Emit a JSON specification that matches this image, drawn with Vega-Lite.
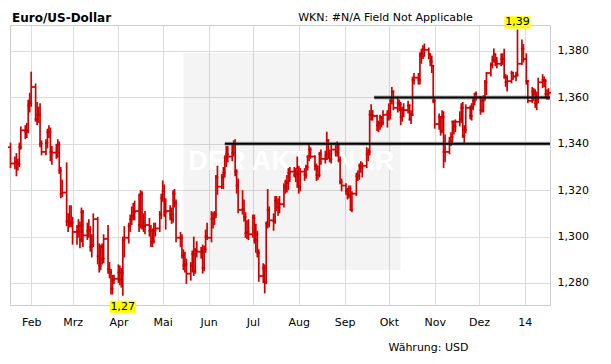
{
  "$schema": "https://vega.github.io/schema/vega-lite/v6.json",
  "width": 540,
  "height": 280,
  "autosize": "none",
  "padding": {"left": 10, "top": 25, "right": 61, "bottom": 59},
  "background": "white",
  "config": {"view": {"stroke": "#cccccc", "strokeWidth": 1}, "font": "DejaVu Sans"},
  "title": {"text": "Euro/US-Dollar", "anchor": "start", "frame": "group", "font": "DejaVu Sans", "fontSize": 12, "fontWeight": "bold", "color": "#000000", "offset": 6, "baseline": "alphabetic", "dx": 2, "dy": 29},
  "datasets": {
    "px": [
{"d":"2013-01-18","o":1.3385,"h":1.3405,"l":1.3295,"c":1.3315},
{"d":"2013-01-21","o":1.3315,"h":1.3345,"l":1.3290,"c":1.3320},
{"d":"2013-01-22","o":1.3320,"h":1.3360,"l":1.3260,"c":1.3318},
{"d":"2013-01-23","o":1.3318,"h":1.3335,"l":1.3285,"c":1.3312},
{"d":"2013-01-24","o":1.3312,"h":1.3405,"l":1.3300,"c":1.3385},
{"d":"2013-01-25","o":1.3385,"h":1.3475,"l":1.3375,"c":1.3458},
{"d":"2013-01-28","o":1.3458,"h":1.3480,"l":1.3420,"c":1.3452},
{"d":"2013-01-29","o":1.3452,"h":1.3490,"l":1.3425,"c":1.3458},
{"d":"2013-01-30","o":1.3458,"h":1.3590,"l":1.3445,"c":1.3565},
{"d":"2013-01-31","o":1.3565,"h":1.3620,"l":1.3535,"c":1.3575},
{"d":"2013-02-01","o":1.3575,"h":1.3711,"l":1.3560,"c":1.3645},
{"d":"2013-02-04","o":1.3645,"h":1.3660,"l":1.3495,"c":1.3505},
{"d":"2013-02-05","o":1.3505,"h":1.3580,"l":1.3480,"c":1.3525},
{"d":"2013-02-06","o":1.3525,"h":1.3560,"l":1.3490,"c":1.3525},
{"d":"2013-02-07","o":1.3525,"h":1.3575,"l":1.3385,"c":1.3400},
{"d":"2013-02-08","o":1.3400,"h":1.3415,"l":1.3350,"c":1.3365},
{"d":"2013-02-11","o":1.3365,"h":1.3420,"l":1.3350,"c":1.3405},
{"d":"2013-02-12","o":1.3405,"h":1.3465,"l":1.3380,"c":1.3450},
{"d":"2013-02-13","o":1.3450,"h":1.3480,"l":1.3425,"c":1.3452},
{"d":"2013-02-14","o":1.3452,"h":1.3470,"l":1.3325,"c":1.3365},
{"d":"2013-02-15","o":1.3365,"h":1.3390,"l":1.3310,"c":1.3362},
{"d":"2013-02-18","o":1.3362,"h":1.3400,"l":1.3335,"c":1.3362},
{"d":"2013-02-19","o":1.3362,"h":1.3420,"l":1.3340,"c":1.3395},
{"d":"2013-02-20","o":1.3395,"h":1.3410,"l":1.3270,"c":1.3285},
{"d":"2013-02-21","o":1.3285,"h":1.3300,"l":1.3165,"c":1.3185},
{"d":"2013-02-22","o":1.3185,"h":1.3245,"l":1.3170,"c":1.3190},
{"d":"2013-02-25","o":1.3190,"h":1.3320,"l":1.3045,"c":1.3065},
{"d":"2013-02-26","o":1.3065,"h":1.3100,"l":1.3020,"c":1.3065},
{"d":"2013-02-27","o":1.3065,"h":1.3135,"l":1.3040,"c":1.3055},
{"d":"2013-02-28","o":1.3055,"h":1.3135,"l":1.3040,"c":1.3060},
{"d":"2013-03-01","o":1.3060,"h":1.3085,"l":1.2965,"c":1.3020},
{"d":"2013-03-04","o":1.3020,"h":1.3050,"l":1.2965,"c":1.3022},
{"d":"2013-03-05","o":1.3022,"h":1.3075,"l":1.2995,"c":1.3045},
{"d":"2013-03-06","o":1.3045,"h":1.3065,"l":1.2950,"c":1.2985},
{"d":"2013-03-07","o":1.2985,"h":1.3125,"l":1.2975,"c":1.3105},
{"d":"2013-03-08","o":1.3105,"h":1.3115,"l":1.2955,"c":1.3005},
{"d":"2013-03-11","o":1.3005,"h":1.3060,"l":1.2985,"c":1.3025},
{"d":"2013-03-12","o":1.3025,"h":1.3075,"l":1.2995,"c":1.3030},
{"d":"2013-03-13","o":1.3030,"h":1.3045,"l":1.2935,"c":1.2955},
{"d":"2013-03-14","o":1.2955,"h":1.3010,"l":1.2910,"c":1.2965},
{"d":"2013-03-15","o":1.2965,"h":1.3100,"l":1.2955,"c":1.3075},
{"d":"2013-03-18","o":1.3075,"h":1.3085,"l":1.2880,"c":1.2915},
{"d":"2013-03-19","o":1.2915,"h":1.2970,"l":1.2845,"c":1.2875},
{"d":"2013-03-20","o":1.2875,"h":1.2965,"l":1.2855,"c":1.2955},
{"d":"2013-03-21","o":1.2955,"h":1.2970,"l":1.2880,"c":1.2905},
{"d":"2013-03-22","o":1.2905,"h":1.3010,"l":1.2885,"c":1.2990},
{"d":"2013-03-25","o":1.2990,"h":1.3050,"l":1.2840,"c":1.2860},
{"d":"2013-03-26","o":1.2860,"h":1.2890,"l":1.2820,"c":1.2845},
{"d":"2013-03-27","o":1.2845,"h":1.2860,"l":1.2750,"c":1.2775},
{"d":"2013-03-28","o":1.2775,"h":1.2835,"l":1.2750,"c":1.2815},
{"d":"2013-03-29","o":1.2815,"h":1.2835,"l":1.2795,"c":1.2818},
{"d":"2013-04-01","o":1.2818,"h":1.2880,"l":1.2800,"c":1.2845},
{"d":"2013-04-02","o":1.2845,"h":1.2875,"l":1.2790,"c":1.2815},
{"d":"2013-04-03","o":1.2815,"h":1.2865,"l":1.2780,"c":1.2845},
{"d":"2013-04-04","o":1.2845,"h":1.3000,"l":1.2745,"c":1.2985},
{"d":"2013-04-05","o":1.2985,"h":1.3045,"l":1.2910,"c":1.2995},
{"d":"2013-04-08","o":1.2995,"h":1.3060,"l":1.2970,"c":1.3045},
{"d":"2013-04-09","o":1.3045,"h":1.3095,"l":1.3020,"c":1.3075},
{"d":"2013-04-10","o":1.3075,"h":1.3130,"l":1.3050,"c":1.3090},
{"d":"2013-04-11","o":1.3090,"h":1.3145,"l":1.3070,"c":1.3105},
{"d":"2013-04-12","o":1.3105,"h":1.3155,"l":1.3070,"c":1.3110},
{"d":"2013-04-15","o":1.3110,"h":1.3185,"l":1.3020,"c":1.3050},
{"d":"2013-04-16","o":1.3050,"h":1.3200,"l":1.3035,"c":1.3185},
{"d":"2013-04-17","o":1.3185,"h":1.3195,"l":1.3030,"c":1.3045},
{"d":"2013-04-18","o":1.3045,"h":1.3100,"l":1.3020,"c":1.3045},
{"d":"2013-04-19","o":1.3045,"h":1.3110,"l":1.3010,"c":1.3050},
{"d":"2013-04-22","o":1.3050,"h":1.3080,"l":1.3000,"c":1.3025},
{"d":"2013-04-23","o":1.3025,"h":1.3050,"l":1.2955,"c":1.2975},
{"d":"2013-04-24","o":1.2975,"h":1.3035,"l":1.2955,"c":1.2980},
{"d":"2013-04-25","o":1.2980,"h":1.3060,"l":1.2970,"c":1.3025},
{"d":"2013-04-26","o":1.3025,"h":1.3060,"l":1.3000,"c":1.3035},
{"d":"2013-04-29","o":1.3035,"h":1.3110,"l":1.3020,"c":1.3095},
{"d":"2013-04-30","o":1.3095,"h":1.3185,"l":1.3075,"c":1.3165},
{"d":"2013-05-01","o":1.3165,"h":1.3242,"l":1.3150,"c":1.3195},
{"d":"2013-05-02","o":1.3195,"h":1.3225,"l":1.3085,"c":1.3105},
{"d":"2013-05-03","o":1.3105,"h":1.3165,"l":1.3030,"c":1.3110},
{"d":"2013-05-06","o":1.3110,"h":1.3135,"l":1.3070,"c":1.3095},
{"d":"2013-05-07","o":1.3095,"h":1.3125,"l":1.3055,"c":1.3075},
{"d":"2013-05-08","o":1.3075,"h":1.3200,"l":1.3060,"c":1.3185},
{"d":"2013-05-09","o":1.3185,"h":1.3205,"l":1.3125,"c":1.3145},
{"d":"2013-05-10","o":1.3145,"h":1.3160,"l":1.2975,"c":1.2995},
{"d":"2013-05-13","o":1.2995,"h":1.3020,"l":1.2955,"c":1.2995},
{"d":"2013-05-14","o":1.2995,"h":1.3010,"l":1.2905,"c":1.2920},
{"d":"2013-05-15","o":1.2920,"h":1.2945,"l":1.2855,"c":1.2875},
{"d":"2013-05-16","o":1.2875,"h":1.2935,"l":1.2845,"c":1.2880},
{"d":"2013-05-17","o":1.2880,"h":1.2905,"l":1.2796,"c":1.2840},
{"d":"2013-05-20","o":1.2840,"h":1.2890,"l":1.2810,"c":1.2875},
{"d":"2013-05-21","o":1.2875,"h":1.2940,"l":1.2845,"c":1.2925},
{"d":"2013-05-22","o":1.2925,"h":1.3000,"l":1.2830,"c":1.2850},
{"d":"2013-05-23","o":1.2850,"h":1.2950,"l":1.2840,"c":1.2940},
{"d":"2013-05-24","o":1.2940,"h":1.2980,"l":1.2910,"c":1.2935},
{"d":"2013-05-27","o":1.2935,"h":1.2955,"l":1.2905,"c":1.2935},
{"d":"2013-05-28","o":1.2935,"h":1.2965,"l":1.2840,"c":1.2865},
{"d":"2013-05-29","o":1.2865,"h":1.2960,"l":1.2850,"c":1.2945},
{"d":"2013-05-30","o":1.2945,"h":1.3030,"l":1.2930,"c":1.3000},
{"d":"2013-05-31","o":1.3000,"h":1.3060,"l":1.2985,"c":1.2995},
{"d":"2013-06-03","o":1.2995,"h":1.3110,"l":1.2975,"c":1.3075},
{"d":"2013-06-04","o":1.3075,"h":1.3105,"l":1.3035,"c":1.3080},
{"d":"2013-06-05","o":1.3080,"h":1.3110,"l":1.3050,"c":1.3095},
{"d":"2013-06-06","o":1.3095,"h":1.3265,"l":1.3080,"c":1.3255},
{"d":"2013-06-07","o":1.3255,"h":1.3305,"l":1.3180,"c":1.3215},
{"d":"2013-06-10","o":1.3215,"h":1.3270,"l":1.3205,"c":1.3255},
{"d":"2013-06-11","o":1.3255,"h":1.3300,"l":1.3205,"c":1.3275},
{"d":"2013-06-12","o":1.3275,"h":1.3350,"l":1.3255,"c":1.3340},
{"d":"2013-06-13","o":1.3340,"h":1.3390,"l":1.3300,"c":1.3355},
{"d":"2013-06-14","o":1.3355,"h":1.3390,"l":1.3320,"c":1.3345},
{"d":"2013-06-17","o":1.3345,"h":1.3395,"l":1.3325,"c":1.3360},
{"d":"2013-06-18","o":1.3360,"h":1.3415,"l":1.3345,"c":1.3395},
{"d":"2013-06-19","o":1.3395,"h":1.3420,"l":1.3260,"c":1.3280},
{"d":"2013-06-20","o":1.3280,"h":1.3290,"l":1.3185,"c":1.3220},
{"d":"2013-06-21","o":1.3220,"h":1.3250,"l":1.3100,"c":1.3115},
{"d":"2013-06-24","o":1.3115,"h":1.3200,"l":1.3095,"c":1.3120},
{"d":"2013-06-25","o":1.3120,"h":1.3160,"l":1.3065,"c":1.3085},
{"d":"2013-06-26","o":1.3085,"h":1.3105,"l":1.2995,"c":1.3015},
{"d":"2013-06-27","o":1.3015,"h":1.3070,"l":1.2990,"c":1.3020},
{"d":"2013-06-28","o":1.3020,"h":1.3075,"l":1.2985,"c":1.3010},
{"d":"2013-07-01","o":1.3010,"h":1.3095,"l":1.2995,"c":1.3080},
{"d":"2013-07-02","o":1.3080,"h":1.3095,"l":1.2970,"c":1.2985},
{"d":"2013-07-03","o":1.2985,"h":1.3055,"l":1.2930,"c":1.3010},
{"d":"2013-07-04","o":1.3010,"h":1.3025,"l":1.2910,"c":1.2930},
{"d":"2013-07-05","o":1.2930,"h":1.2945,"l":1.2805,"c":1.2830},
{"d":"2013-07-08","o":1.2830,"h":1.2885,"l":1.2800,"c":1.2865},
{"d":"2013-07-09","o":1.2865,"h":1.2880,"l":1.2755,"c":1.2805},
{"d":"2013-07-10","o":1.2805,"h":1.3065,"l":1.2795,"c":1.3055},
{"d":"2013-07-11","o":1.3055,"h":1.3205,"l":1.3035,"c":1.3115},
{"d":"2013-07-12","o":1.3115,"h":1.3130,"l":1.3040,"c":1.3070},
{"d":"2013-07-15","o":1.3070,"h":1.3100,"l":1.3025,"c":1.3065},
{"d":"2013-07-16","o":1.3065,"h":1.3175,"l":1.3055,"c":1.3155},
{"d":"2013-07-17","o":1.3155,"h":1.3175,"l":1.3110,"c":1.3145},
{"d":"2013-07-18","o":1.3145,"h":1.3165,"l":1.3090,"c":1.3125},
{"d":"2013-07-19","o":1.3125,"h":1.3175,"l":1.3100,"c":1.3140},
{"d":"2013-07-22","o":1.3140,"h":1.3230,"l":1.3125,"c":1.3215},
{"d":"2013-07-23","o":1.3215,"h":1.3245,"l":1.3185,"c":1.3235},
{"d":"2013-07-24","o":1.3235,"h":1.3265,"l":1.3190,"c":1.3230},
{"d":"2013-07-25","o":1.3230,"h":1.3295,"l":1.3200,"c":1.3275},
{"d":"2013-07-26","o":1.3275,"h":1.3300,"l":1.3235,"c":1.3280},
{"d":"2013-07-29","o":1.3280,"h":1.3300,"l":1.3255,"c":1.3265},
{"d":"2013-07-30","o":1.3265,"h":1.3295,"l":1.3235,"c":1.3275},
{"d":"2013-07-31","o":1.3275,"h":1.3345,"l":1.3210,"c":1.3295},
{"d":"2013-08-01","o":1.3295,"h":1.3305,"l":1.3185,"c":1.3215},
{"d":"2013-08-02","o":1.3215,"h":1.3295,"l":1.3195,"c":1.3280},
{"d":"2013-08-05","o":1.3280,"h":1.3295,"l":1.3240,"c":1.3265},
{"d":"2013-08-06","o":1.3265,"h":1.3310,"l":1.3250,"c":1.3300},
{"d":"2013-08-07","o":1.3300,"h":1.3350,"l":1.3285,"c":1.3345},
{"d":"2013-08-08","o":1.3345,"h":1.3400,"l":1.3325,"c":1.3375},
{"d":"2013-08-09","o":1.3375,"h":1.3385,"l":1.3335,"c":1.3345},
{"d":"2013-08-12","o":1.3345,"h":1.3350,"l":1.3285,"c":1.3305},
{"d":"2013-08-13","o":1.3305,"h":1.3315,"l":1.3240,"c":1.3265},
{"d":"2013-08-14","o":1.3265,"h":1.3305,"l":1.3245,"c":1.3265},
{"d":"2013-08-15","o":1.3265,"h":1.3365,"l":1.3255,"c":1.3355},
{"d":"2013-08-16","o":1.3355,"h":1.3375,"l":1.3310,"c":1.3335},
{"d":"2013-08-19","o":1.3335,"h":1.3370,"l":1.3315,"c":1.3335},
{"d":"2013-08-20","o":1.3335,"h":1.3452,"l":1.3330,"c":1.3415},
{"d":"2013-08-21","o":1.3415,"h":1.3420,"l":1.3335,"c":1.3355},
{"d":"2013-08-22","o":1.3355,"h":1.3375,"l":1.3320,"c":1.3335},
{"d":"2013-08-23","o":1.3335,"h":1.3395,"l":1.3315,"c":1.3375},
{"d":"2013-08-26","o":1.3375,"h":1.3395,"l":1.3345,"c":1.3365},
{"d":"2013-08-27","o":1.3365,"h":1.3410,"l":1.3345,"c":1.3395},
{"d":"2013-08-28","o":1.3395,"h":1.3400,"l":1.3320,"c":1.3330},
{"d":"2013-08-29","o":1.3330,"h":1.3345,"l":1.3225,"c":1.3235},
{"d":"2013-08-30","o":1.3235,"h":1.3250,"l":1.3195,"c":1.3220},
{"d":"2013-09-02","o":1.3220,"h":1.3230,"l":1.3180,"c":1.3195},
{"d":"2013-09-03","o":1.3195,"h":1.3210,"l":1.3160,"c":1.3180},
{"d":"2013-09-04","o":1.3180,"h":1.3220,"l":1.3165,"c":1.3205},
{"d":"2013-09-05","o":1.3205,"h":1.3220,"l":1.3115,"c":1.3115},
{"d":"2013-09-06","o":1.3115,"h":1.3195,"l":1.3105,"c":1.3185},
{"d":"2013-09-09","o":1.3185,"h":1.3275,"l":1.3175,"c":1.3260},
{"d":"2013-09-10","o":1.3260,"h":1.3285,"l":1.3240,"c":1.3260},
{"d":"2013-09-11","o":1.3260,"h":1.3315,"l":1.3245,"c":1.3305},
{"d":"2013-09-12","o":1.3305,"h":1.3325,"l":1.3275,"c":1.3295},
{"d":"2013-09-13","o":1.3295,"h":1.3320,"l":1.3255,"c":1.3305},
{"d":"2013-09-16","o":1.3305,"h":1.3385,"l":1.3295,"c":1.3355},
{"d":"2013-09-17","o":1.3355,"h":1.3380,"l":1.3325,"c":1.3365},
{"d":"2013-09-18","o":1.3365,"h":1.3545,"l":1.3350,"c":1.3525},
{"d":"2013-09-19","o":1.3525,"h":1.3570,"l":1.3500,"c":1.3525},
{"d":"2013-09-20","o":1.3525,"h":1.3545,"l":1.3500,"c":1.3520},
{"d":"2013-09-23","o":1.3520,"h":1.3525,"l":1.3455,"c":1.3480},
{"d":"2013-09-24","o":1.3480,"h":1.3500,"l":1.3450,"c":1.3490},
{"d":"2013-09-25","o":1.3490,"h":1.3525,"l":1.3460,"c":1.3515},
{"d":"2013-09-26","o":1.3515,"h":1.3520,"l":1.3470,"c":1.3490},
{"d":"2013-09-27","o":1.3490,"h":1.3545,"l":1.3480,"c":1.3525},
{"d":"2013-09-30","o":1.3525,"h":1.3545,"l":1.3470,"c":1.3530},
{"d":"2013-10-01","o":1.3530,"h":1.3575,"l":1.3500,"c":1.3525},
{"d":"2013-10-02","o":1.3525,"h":1.3595,"l":1.3505,"c":1.3585},
{"d":"2013-10-03","o":1.3585,"h":1.3645,"l":1.3570,"c":1.3625},
{"d":"2013-10-04","o":1.3625,"h":1.3630,"l":1.3545,"c":1.3555},
{"d":"2013-10-07","o":1.3555,"h":1.3600,"l":1.3535,"c":1.3575},
{"d":"2013-10-08","o":1.3575,"h":1.3590,"l":1.3540,"c":1.3570},
{"d":"2013-10-09","o":1.3570,"h":1.3580,"l":1.3480,"c":1.3515},
{"d":"2013-10-10","o":1.3515,"h":1.3560,"l":1.3495,"c":1.3545},
{"d":"2013-10-11","o":1.3545,"h":1.3575,"l":1.3515,"c":1.3545},
{"d":"2013-10-14","o":1.3545,"h":1.3585,"l":1.3530,"c":1.3565},
{"d":"2013-10-15","o":1.3565,"h":1.3570,"l":1.3500,"c":1.3505},
{"d":"2013-10-16","o":1.3505,"h":1.3545,"l":1.3485,"c":1.3525},
{"d":"2013-10-17","o":1.3525,"h":1.3690,"l":1.3520,"c":1.3675},
{"d":"2013-10-18","o":1.3675,"h":1.3705,"l":1.3655,"c":1.3685},
{"d":"2013-10-21","o":1.3685,"h":1.3705,"l":1.3655,"c":1.3675},
{"d":"2013-10-22","o":1.3675,"h":1.3795,"l":1.3655,"c":1.3785},
{"d":"2013-10-23","o":1.3785,"h":1.3810,"l":1.3745,"c":1.3775},
{"d":"2013-10-24","o":1.3775,"h":1.3825,"l":1.3765,"c":1.3810},
{"d":"2013-10-25","o":1.3810,"h":1.3832,"l":1.3775,"c":1.3805},
{"d":"2013-10-28","o":1.3805,"h":1.3815,"l":1.3765,"c":1.3785},
{"d":"2013-10-29","o":1.3785,"h":1.3790,"l":1.3735,"c":1.3755},
{"d":"2013-10-30","o":1.3755,"h":1.3780,"l":1.3705,"c":1.3735},
{"d":"2013-10-31","o":1.3735,"h":1.3740,"l":1.3575,"c":1.3585},
{"d":"2013-11-01","o":1.3585,"h":1.3595,"l":1.3465,"c":1.3485},
{"d":"2013-11-04","o":1.3485,"h":1.3530,"l":1.3460,"c":1.3515},
{"d":"2013-11-05","o":1.3515,"h":1.3520,"l":1.3435,"c":1.3455},
{"d":"2013-11-06","o":1.3455,"h":1.3545,"l":1.3445,"c":1.3515},
{"d":"2013-11-07","o":1.3515,"h":1.3540,"l":1.3295,"c":1.3365},
{"d":"2013-11-08","o":1.3365,"h":1.3440,"l":1.3320,"c":1.3365},
{"d":"2013-11-11","o":1.3365,"h":1.3430,"l":1.3355,"c":1.3410},
{"d":"2013-11-12","o":1.3410,"h":1.3450,"l":1.3390,"c":1.3430},
{"d":"2013-11-13","o":1.3430,"h":1.3500,"l":1.3400,"c":1.3495},
{"d":"2013-11-14","o":1.3495,"h":1.3500,"l":1.3440,"c":1.3475},
{"d":"2013-11-15","o":1.3475,"h":1.3505,"l":1.3450,"c":1.3495},
{"d":"2013-11-18","o":1.3495,"h":1.3540,"l":1.3475,"c":1.3505},
{"d":"2013-11-19","o":1.3505,"h":1.3575,"l":1.3490,"c":1.3555},
{"d":"2013-11-20","o":1.3555,"h":1.3580,"l":1.3425,"c":1.3435},
{"d":"2013-11-21","o":1.3435,"h":1.3480,"l":1.3400,"c":1.3460},
{"d":"2013-11-22","o":1.3460,"h":1.3570,"l":1.3445,"c":1.3555},
{"d":"2013-11-25","o":1.3555,"h":1.3565,"l":1.3505,"c":1.3520},
{"d":"2013-11-26","o":1.3520,"h":1.3575,"l":1.3500,"c":1.3560},
{"d":"2013-11-27","o":1.3560,"h":1.3600,"l":1.3545,"c":1.3585},
{"d":"2013-11-28","o":1.3585,"h":1.3620,"l":1.3565,"c":1.3615},
{"d":"2013-11-29","o":1.3615,"h":1.3625,"l":1.3585,"c":1.3600},
{"d":"2013-12-02","o":1.3600,"h":1.3605,"l":1.3525,"c":1.3545},
{"d":"2013-12-03","o":1.3545,"h":1.3600,"l":1.3535,"c":1.3585},
{"d":"2013-12-04","o":1.3585,"h":1.3610,"l":1.3535,"c":1.3595},
{"d":"2013-12-05","o":1.3595,"h":1.3675,"l":1.3585,"c":1.3665},
{"d":"2013-12-06","o":1.3665,"h":1.3710,"l":1.3610,"c":1.3705},
{"d":"2013-12-09","o":1.3705,"h":1.3750,"l":1.3690,"c":1.3740},
{"d":"2013-12-10","o":1.3740,"h":1.3780,"l":1.3725,"c":1.3760},
{"d":"2013-12-11","o":1.3760,"h":1.3811,"l":1.3750,"c":1.3785},
{"d":"2013-12-12","o":1.3785,"h":1.3790,"l":1.3735,"c":1.3755},
{"d":"2013-12-13","o":1.3755,"h":1.3775,"l":1.3725,"c":1.3745},
{"d":"2013-12-16","o":1.3745,"h":1.3790,"l":1.3735,"c":1.3765},
{"d":"2013-12-17","o":1.3765,"h":1.3790,"l":1.3740,"c":1.3765},
{"d":"2013-12-18","o":1.3765,"h":1.3810,"l":1.3685,"c":1.3685},
{"d":"2013-12-19","o":1.3685,"h":1.3700,"l":1.3645,"c":1.3665},
{"d":"2013-12-20","o":1.3665,"h":1.3695,"l":1.3625,"c":1.3670},
{"d":"2013-12-23","o":1.3670,"h":1.3715,"l":1.3660,"c":1.3705},
{"d":"2013-12-24","o":1.3705,"h":1.3710,"l":1.3675,"c":1.3690},
{"d":"2013-12-26","o":1.3690,"h":1.3710,"l":1.3670,"c":1.3695},
{"d":"2013-12-27","o":1.3695,"h":1.3893,"l":1.3690,"c":1.3745},
{"d":"2013-12-30","o":1.3745,"h":1.3850,"l":1.3740,"c":1.3810},
{"d":"2013-12-31","o":1.3810,"h":1.3830,"l":1.3750,"c":1.3765},
{"d":"2014-01-02","o":1.3765,"h":1.3790,"l":1.3655,"c":1.3670},
{"d":"2014-01-03","o":1.3670,"h":1.3675,"l":1.3575,"c":1.3585},
{"d":"2014-01-06","o":1.3585,"h":1.3645,"l":1.3575,"c":1.3625},
{"d":"2014-01-07","o":1.3625,"h":1.3640,"l":1.3585,"c":1.3615},
{"d":"2014-01-08","o":1.3615,"h":1.3635,"l":1.3555,"c":1.3575},
{"d":"2014-01-09","o":1.3575,"h":1.3625,"l":1.3545,"c":1.3590},
{"d":"2014-01-10","o":1.3590,"h":1.3685,"l":1.3575,"c":1.3665},
{"d":"2014-01-13","o":1.3665,"h":1.3700,"l":1.3640,"c":1.3675},
{"d":"2014-01-14","o":1.3675,"h":1.3690,"l":1.3645,"c":1.3670},
{"d":"2014-01-15","o":1.3670,"h":1.3680,"l":1.3595,"c":1.3615},
{"d":"2014-01-16","o":1.3615,"h":1.3635,"l":1.3590,"c":1.3615},
{"d":"2014-01-17","o":1.3615,"h":1.3640,"l":1.3590,"c":1.3620}
    ],
    "lines": [
      {"from": "2013-06-12", "to": "2014-01-18", "v": 1.34},
      {"from": "2013-09-21", "to": "2014-01-18", "v": 1.36}
    ],
    "ext": [
      {"d": "2013-04-04", "v": 1.2745, "t": "1,27", "k": "low"},
      {"d": "2013-12-27", "v": 1.3893, "t": "1,39", "k": "high"}
    ],
    "wm": [
      {"from": "2013-05-15", "to": "2013-10-09", "lo": 1.2856, "hi": 1.3791, "mid": "2013-07-27", "vm": 1.3322, "t": "DER AKTIONÄR"}
    ]
  },
  "layer": [
    {
      "data": {"name": "wm"},
      "mark": {"type": "rect", "fill": "#000000", "fillOpacity": 0.045, "strokeWidth": 0},
      "encoding": {
        "x": {"field": "from", "type": "temporal",
          "scale": {"domain": [{"year": 2013, "month": 1, "date": 17, "hours": 16, "utc": true}, {"year": 2014, "month": 1, "date": 18, "utc": true}]},
          "axis": {"title": "Währung: USD", "titleFont": "DejaVu Sans", "titleFontSize": 11, "titleFontWeight": "normal", "titleColor": "#000000", "titleX": 418, "titleY": 45, "titleAlign": "center", "titleBaseline": "alphabetic",
            "tickCount": {"interval": "month", "step": 1}, "grid": true, "gridColor": "#dcdcdc", "domain": false, "ticks": false,
            "labelPadding": 20, "labelBaseline": "alphabetic", "labelFont": "DejaVu Sans", "labelFontSize": 11, "labelColor": "#000000", "labelFlush": false, "labelOverlap": false,
            "labelExpr": "month(datum.value) == 0 ? timeFormat(datum.value, '%y') : ['Jan','Feb','Mrz','Apr','Mai','Jun','Jul','Aug','Sep','Okt','Nov','Dez'][month(datum.value)]"}},
        "x2": {"field": "to"},
        "y": {"field": "lo", "type": "quantitative",
          "scale": {"domain": [1.2705, 1.3912], "nice": false, "zero": false},
          "axis": {"orient": "right", "values": [1.28, 1.3, 1.32, 1.34, 1.36, 1.38], "labelExpr": "replace(format(datum.value, '.3f'), '.', ',')",
            "grid": true, "gridColor": "#dcdcdc", "domain": false, "ticks": false, "labelPadding": 7, "labelFont": "DejaVu Sans", "labelFontSize": 11, "labelColor": "#000000",
            "title": "WKN: #N/A Field Not Applicable", "titleAngle": 0, "titleX": -165, "titleY": -5, "titleAlign": "center", "titleBaseline": "alphabetic",
            "titleFont": "DejaVu Sans", "titleFontWeight": "normal", "titleFontSize": 11, "titleColor": "#000000"}},
        "y2": {"field": "hi"}
      }
    },
    {
      "data": {"name": "wm"},
      "mark": {"type": "text", "font": "Liberation Sans", "fontSize": 27, "fontWeight": "bold", "color": "#ffffff", "baseline": "middle", "align": "center"},
      "encoding": {
        "x": {"field": "mid", "type": "temporal"},
        "y": {"field": "vm", "type": "quantitative"},
        "text": {"field": "t"}
      }
    },
    {
      "data": {"name": "px"},
      "mark": {"type": "rule", "color": "#d00000", "strokeWidth": 1.7},
      "encoding": {
        "x": {"field": "d", "type": "temporal"},
        "y": {"field": "l", "type": "quantitative"},
        "y2": {"field": "h"}
      }
    },
    {
      "data": {"name": "px"},
      "mark": {"type": "tick", "orient": "horizontal", "color": "#d00000", "size": 2.5, "thickness": 1.7, "xOffset": -1.2, "opacity": 1},
      "encoding": {
        "x": {"field": "d", "type": "temporal"},
        "y": {"field": "o", "type": "quantitative"}
      }
    },
    {
      "data": {"name": "px"},
      "mark": {"type": "tick", "orient": "horizontal", "color": "#d00000", "size": 2.5, "thickness": 1.7, "xOffset": 1.2, "opacity": 1},
      "encoding": {
        "x": {"field": "d", "type": "temporal"},
        "y": {"field": "c", "type": "quantitative"}
      }
    },
    {
      "data": {"name": "lines"},
      "mark": {"type": "rule", "color": "#555555", "strokeWidth": 4, "opacity": 0.45},
      "encoding": {
        "x": {"field": "from", "type": "temporal"},
        "x2": {"field": "to"},
        "y": {"field": "v", "type": "quantitative"}
      }
    },
    {
      "data": {"name": "lines"},
      "mark": {"type": "rule", "color": "#000000", "strokeWidth": 2},
      "encoding": {
        "x": {"field": "from", "type": "temporal"},
        "x2": {"field": "to"},
        "y": {"field": "v", "type": "quantitative"}
      }
    },
    {
      "data": {"name": "ext"},
      "transform": [{"filter": "datum.k == 'low'"}],
      "mark": {"type": "point", "shape": "M-1,-0.47L1,-0.47L1,0.47L-1,0.47Z", "size": 676, "filled": true, "color": "#ffff00", "opacity": 1, "strokeWidth": 0, "yOffset": 11},
      "encoding": {
        "x": {"field": "d", "type": "temporal"},
        "y": {"field": "v", "type": "quantitative"}
      }
    },
    {
      "data": {"name": "ext"},
      "transform": [{"filter": "datum.k == 'low'"}],
      "mark": {"type": "text", "font": "DejaVu Sans", "fontSize": 11, "color": "#000000", "baseline": "middle", "align": "center", "yOffset": 11},
      "encoding": {
        "x": {"field": "d", "type": "temporal"},
        "y": {"field": "v", "type": "quantitative"},
        "text": {"field": "t"}
      }
    },
    {
      "data": {"name": "ext"},
      "transform": [{"filter": "datum.k == 'high'"}],
      "mark": {"type": "point", "shape": "M-1,-0.47L1,-0.47L1,0.47L-1,0.47Z", "size": 676, "filled": true, "color": "#ffff00", "opacity": 1, "strokeWidth": 0, "yOffset": -7},
      "encoding": {
        "x": {"field": "d", "type": "temporal"},
        "y": {"field": "v", "type": "quantitative"}
      }
    },
    {
      "data": {"name": "ext"},
      "transform": [{"filter": "datum.k == 'high'"}],
      "mark": {"type": "text", "font": "DejaVu Sans", "fontSize": 11, "color": "#000000", "baseline": "middle", "align": "center", "yOffset": -7},
      "encoding": {
        "x": {"field": "d", "type": "temporal"},
        "y": {"field": "v", "type": "quantitative"},
        "text": {"field": "t"}
      }
    }
  ]
}
